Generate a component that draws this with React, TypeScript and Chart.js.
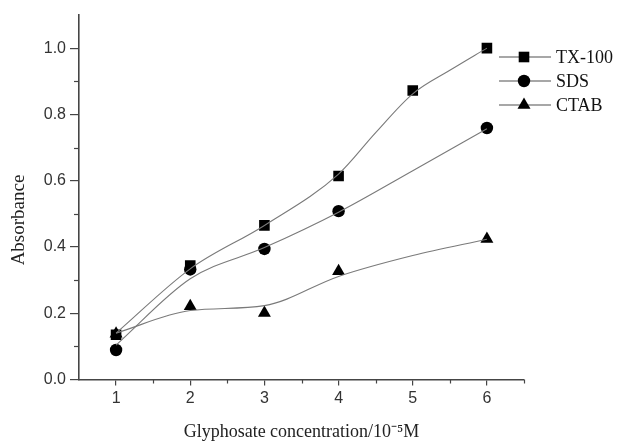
import React, { useEffect, useRef } from "react";
import { Chart, registerables } from "chart.js";

Chart.register(...registerables);

// ---- Data ----
const SERIES_NAMES = ["TX-100", "SDS", "CTAB"];

const TX100_X = [1, 2, 3, 4, 5, 6];
const TX100_Y = [0.135, 0.344, 0.465, 0.614, 0.872, 1.0];

const SDS_X = [1, 2, 3, 4, 6];
const SDS_Y = [0.089, 0.332, 0.394, 0.508, 0.759];

const CTAB_X = [1, 2, 3, 4, 6];
const CTAB_Y = [0.138, 0.221, 0.201, 0.327, 0.424];

// Smooth fitted curves
const TX100_FIT_X = [1, 2, 3, 4, 4.5, 5, 5.5, 6];
const TX100_FIT = [0.14, 0.334, 0.465, 0.62, 0.745, 0.862, 0.933, 1.0];
const SDS_FIT_X = [1, 2, 3, 4, 5, 6];
const SDS_FIT = [0.104, 0.304, 0.398, 0.505, 0.63, 0.757];
const CTAB_FIT_X = [1, 2, 3, 4, 5, 6];
const CTAB_FIT = [0.14, 0.208, 0.223, 0.311, 0.374, 0.423];

const X_TICKS = [1, 2, 3, 4, 5, 6];
const Y_TICKS = [0, 0.2, 0.4, 0.6, 0.8, 1.0];
const X_MINOR = [1.5, 2.5, 3.5, 4.5, 5.5, 6.5];
const Y_MINOR = [0.1, 0.3, 0.5, 0.7, 0.9];

const X_TITLE = "Glyphosate concentration/10\u207B\u2075M";
const Y_TITLE = "Absorbance";

const AXIS_COLOR = "#454545";
const FIT_COLOR = "#7a7a7a";
const MARK_COLOR = "#000000";
const STYLES = ["rect", "circle", "triangle"];
const RADII = [7.5, 6.2, 7.5];

const zip = (xs: number[], ys: number[]) => xs.map((x, i) => ({ x, y: ys[i] }));

function drawMarker(ctx: CanvasRenderingContext2D, style: string, x: number, y: number, r: number) {
  ctx.beginPath();
  if (style === "rect") {
    const s = r * Math.SQRT1_2;
    ctx.rect(x - s, y - s, 2 * s, 2 * s);
  } else if (style === "circle") {
    ctx.arc(x, y, r, 0, Math.PI * 2);
  } else {
    ctx.moveTo(x, y - r);
    ctx.lineTo(x + r * Math.sin((2 * Math.PI) / 3), y + r / 2);
    ctx.lineTo(x - r * Math.sin((2 * Math.PI) / 3), y + r / 2);
    ctx.closePath();
  }
  ctx.fill();
}

const extrasPlugin = {
  id: "extras",
  afterDraw(chart: any) {
    const ctx: CanvasRenderingContext2D = chart.ctx;
    const xs = chart.scales.x;
    const ys = chart.scales.y;
    const area = chart.chartArea;
    ctx.save();
    ctx.strokeStyle = AXIS_COLOR;
    ctx.lineWidth = 1.2;
    // minor ticks
    X_MINOR.forEach((v) => {
      const px = Math.round(xs.getPixelForValue(v)) + 0.5;
      ctx.beginPath();
      ctx.moveTo(px, area.bottom);
      ctx.lineTo(px, area.bottom + 4);
      ctx.stroke();
    });
    Y_MINOR.forEach((v) => {
      const py = Math.round(ys.getPixelForValue(v)) + 0.5;
      ctx.beginPath();
      ctx.moveTo(area.left - 5, py);
      ctx.lineTo(area.left, py);
      ctx.stroke();
    });
    // y-axis title (placed a little below the plot centre, as in the reference)
    ctx.save();
    ctx.translate(19, 220);
    ctx.rotate(-Math.PI / 2);
    ctx.fillStyle = "#222";
    ctx.font = '19px "Liberation Serif"';
    ctx.textAlign = "center";
    ctx.textBaseline = "middle";
    ctx.fillText(Y_TITLE, 0, 0);
    ctx.restore();
    // legend
    SERIES_NAMES.forEach((name, i) => {
      const y = 57 + i * 24;
      ctx.strokeStyle = "#8a8a8a";
      ctx.lineWidth = 1.5;
      ctx.beginPath();
      ctx.moveTo(499, y);
      ctx.lineTo(551, y);
      ctx.stroke();
      ctx.fillStyle = MARK_COLOR;
      drawMarker(ctx, STYLES[i], 524, y, RADII[i]);
      ctx.fillStyle = "#111";
      ctx.font = '18px "Liberation Serif"';
      ctx.textAlign = "left";
      ctx.textBaseline = "middle";
      ctx.fillText(name, 556, y + 1);
    });
    ctx.restore();
  },
};

export default function App() {
  const ref = useRef<HTMLCanvasElement | null>(null);

  useEffect(() => {
    if (!ref.current) return;
    const fits = [zip(TX100_FIT_X, TX100_FIT), zip(SDS_FIT_X, SDS_FIT), zip(CTAB_FIT_X, CTAB_FIT)];
    const pts = [zip(TX100_X, TX100_Y), zip(SDS_X, SDS_Y), zip(CTAB_X, CTAB_Y)];
    const datasets: any[] = [];
    fits.forEach((f, i) => {
      datasets.push({
        label: SERIES_NAMES[i] + " fit",
        data: f,
        showLine: true,
        borderColor: FIT_COLOR,
        borderWidth: 1.1,
        pointRadius: 0,
        cubicInterpolationMode: "monotone",
        fill: false,
      });
    });
    pts.forEach((p, i) => {
      datasets.push({
        label: SERIES_NAMES[i],
        data: p,
        showLine: false,
        pointStyle: STYLES[i],
        pointRadius: RADII[i],
        pointBackgroundColor: MARK_COLOR,
        pointBorderColor: MARK_COLOR,
        pointBorderWidth: 0,
      });
    });

    const chart = new Chart(ref.current, {
      type: "scatter",
      data: { datasets },
      plugins: [extrasPlugin],
      options: {
        animation: false,
        responsive: false,
        layout: { padding: { top: 15, right: 95, left: 0, bottom: 0 } },
        plugins: { legend: { display: false }, tooltip: { enabled: false } },
        scales: {
          x: {
            type: "linear",
            min: 0.5,
            max: 6.5,
            afterFit: (s: any) => {
              s.height = 63.5;
            },
            afterBuildTicks: (s: any) => {
              s.ticks = X_TICKS.map((v) => ({ value: v }));
            },
            ticks: {
              color: "#333",
              font: { family: '"Liberation Sans"', size: 16 },
              padding: 3,
              maxRotation: 0,
              callback: (v: any) => String(v),
            },
            grid: {
              drawOnChartArea: false,
              drawTicks: true,
              tickLength: 6,
              tickColor: AXIS_COLOR,
              lineWidth: 1.2,
            },
            border: { color: AXIS_COLOR, width: 1.6 },
            title: {
              display: true,
              text: X_TITLE,
              color: "#222",
              font: { family: '"Liberation Serif"', size: 18 },
              padding: { top: 0, bottom: 0 },
            },
          },
          y: {
            type: "linear",
            min: 0,
            max: 1.1,
            afterFit: (s: any) => {
              s.width = 79;
            },
            afterBuildTicks: (s: any) => {
              s.ticks = Y_TICKS.map((v) => ({ value: v }));
            },
            ticks: {
              color: "#333",
              font: { family: '"Liberation Sans"', size: 16 },
              padding: 4,
              callback: (v: any) => Number(v).toFixed(1),
            },
            grid: {
              drawOnChartArea: false,
              drawTicks: true,
              tickLength: 9,
              tickColor: AXIS_COLOR,
              lineWidth: 1.2,
            },
            border: { color: AXIS_COLOR, width: 1.6 },
            title: { display: false },
          },
        },
      },
    });
    return () => chart.destroy();
  }, []);

  return (
    <div style={{ position: "absolute", left: 0, top: 0, width: 619, height: 443, background: "#fff" }}>
      <canvas ref={ref} width={619} height={443} style={{ display: "block" }} />
    </div>
  );
}
